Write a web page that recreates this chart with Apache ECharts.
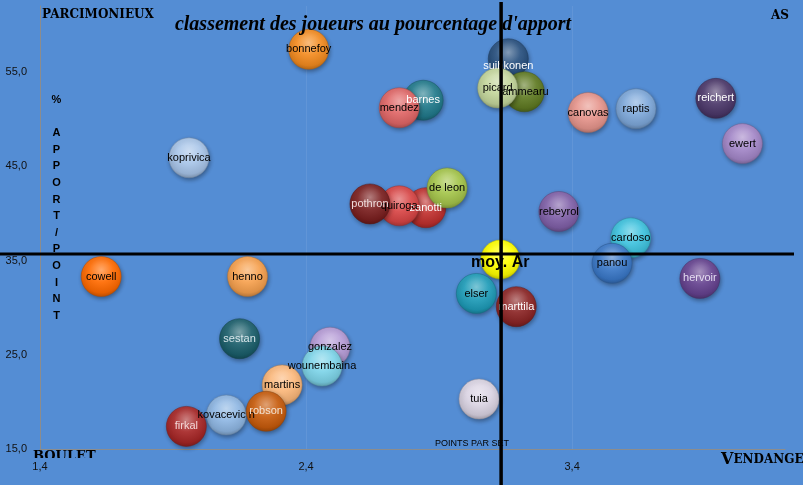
<!DOCTYPE html>
<html><head><meta charset="utf-8">
<script src="https://cdn.jsdelivr.net/npm/echarts@6/dist/echarts.min.js"></script>
<style>html,body{margin:0;padding:0;background:#548DD4}#c{width:803px;height:485px}</style>
</head><body><div id="c"></div>
<script>
// ---- data (draw order: later items sit on top) ----
const players = ['suihkonen','lammearu','picard','bonnefoy','barnes','mendez','canovas','raptis','reichert','ewert','koprivica','zanotti','quiroga','pothron','de leon','rebeyrol','cardoso','panou','hervoir','cowell','henno','moy. Ar','elser','marttila','sestan','gonzalez','martins','wounembaina','kovacevic n','robson','firkal','tuia'];
const pointsParSet = [3.16,3.22,3.12,2.41,2.84,2.75,3.46,3.64,3.94,4.04,1.96,2.85,2.75,2.64,2.93,3.35,3.62,3.55,3.88,1.63,2.18,3.13,3.04,3.19,2.15,2.49,2.31,2.46,2.10,2.25,1.95,3.05];
const apportPct   = [56.4,52.9,53.3,57.4,52.0,51.2,50.7,51.1,52.2,47.4,45.9,40.6,40.8,41.0,42.7,40.2,37.4,34.7,33.1,33.3,33.3,35.1,31.5,30.1,26.7,25.8,21.8,23.8,18.6,19.0,17.4,20.3];
const xTicks = [1.4, 2.4, 3.4];
const yTicks = [15, 25, 35, 45, 55];
const moyenne = {x: 3.133, y: 35.7};

// ---- styles ----
const bubbleColors = ['#28507F','#5F7A22','#C3D69B','#F38B1F','#217A8C','#E06666','#E6958C','#7EA8DA','#4B3769','#A386C8','#A7C4E8','#C0302E','#D84545','#7A1F1F','#A4C44A','#8060A8','#3EC2DE','#3A78C8','#65428F','#FF6A00','#F6A04E','#FFFF00','#1E9CB8','#8B2525','#1B5E6B','#B59BD6','#FBB77A','#7DD4E8','#8EB6E3','#C75B0C','#A62626','#DAD3E3'];
const lightLabel = {'suihkonen':'#ffffff','barnes':'#ffffff','reichert':'#ffffff','pothron':'#f0dcdc','zanotti':'#ffffff','sestan':'#d8e6ea','marttila':'#ffffff','firkal':'#f2d6d6','robson':'#f4e4d4','hervoir':'#e4dcf0'};
const BG = '#548DD4';

function rgb(h){h=h.replace('#','');return [0,2,4].map(i=>parseInt(h.substr(i,2),16));}
function mix(c,t,a){return 'rgb('+c.map((v,i)=>Math.round(v+(t[i]-v)*a)).join(',')+')';}
function fill(hex){
  const c=rgb(hex);
  return {type:'radial',x:0.5,y:0.34,r:0.66,colorStops:[
    {offset:0,color:mix(c,[255,255,255],0.42)},
    {offset:0.45,color:mix(c,[255,255,255],0.08)},
    {offset:0.85,color:mix(c,[0,0,0],0.1)},
    {offset:1,color:mix(c,[0,0,0],0.25)}]};
}
const fmt = v => v.toFixed(1).replace('.', ',');

const bubbles = players.map((n,i)=>({
  name:n, value:[pointsParSet[i], apportPct[i]],
  symbolSize: n==='moy. Ar' ? 39 : 40,
  itemStyle:{opacity:1, color:fill(bubbleColors[i]), borderColor:mix(rgb(bubbleColors[i]),[0,0,0],0.3), borderWidth:0.5,
    shadowColor:'rgba(0,0,0,0.35)', shadowBlur:4, shadowOffsetX:1, shadowOffsetY:2}
}));
const labels = players.map((n,i)=>{
  const isMoy = n === 'moy. Ar';
  return {
    name:n, value:[pointsParSet[i], apportPct[i]],
    label:{show:true, formatter:n, position:'inside',
      color: lightLabel[n] || '#000',
      fontSize: isMoy ? 16 : 11, fontWeight: isMoy ? 'bold' : 'normal',
      fontFamily:'Liberation Sans',
      offset: n==='suihkonen' ? [0,7] : (isMoy ? [0,3] : [0,0])}
  };
});

const chart = echarts.init(document.getElementById('c'), null, {renderer:'canvas'});
const option = {
  backgroundColor: BG,
  animation:false,
  grid:{left:40, right:18, top:6, bottom:36},
  xAxis:{type:'value', min:xTicks[0], max:4.2, interval:1,
    axisLine:{onZero:false, lineStyle:{color:'#8C8C8C', width:1}},
    axisTick:{show:false},
    axisLabel:{margin:12, color:'#111', fontSize:11, fontFamily:'Liberation Sans', showMaxLabel:false,
      formatter: v => xTicks.some(t=>Math.abs(t-v)<1e-6) ? fmt(v) : ''},
    splitLine:{show:true, showMaxLine:false, lineStyle:{color:'rgba(255,255,255,0.08)', width:1}}},
  yAxis:{type:'value', min:yTicks[0], max:62, interval:10,
    axisLine:{show:true, onZero:false, lineStyle:{color:'#8C8C8C', width:1}},
    axisTick:{show:false},
    axisLabel:{margin:13, color:'#111', fontSize:11, fontFamily:'Liberation Sans', showMaxLabel:false,
      formatter: v => yTicks.some(t=>Math.abs(t-v)<1e-6) ? fmt(v) : ''},
    splitLine:{show:false}},
  series:[
    {type:'scatter', z:2, data:bubbles, emphasis:{disabled:true}},
    {type:'scatter', z:3, data:labels, symbolSize:40, itemStyle:{color:'rgba(0,0,0,0)', opacity:1}, silent:true, emphasis:{disabled:true}}
  ]
};
chart.setOption(option);

const p = chart.convertToPixel({gridIndex:0}, [moyenne.x, moyenne.y]);
chart.setOption({graphic:[
  {type:'text', x:373, y:25, z:50, style:{text:"classement des joueurs au pourcentage d'apport", font:'bold italic 20px "Liberation Serif"', fill:'#000', align:'center', verticalAlign:'middle'}},
  {type:'text', x:42, y:15, z:50, style:{text:'PARCIMONIEUX', font:'bold 12px "DejaVu Serif"', fill:'#000', align:'left', verticalAlign:'middle'}},
  {type:'text', x:771, y:16, z:50, style:{text:'AS', font:'bold 12px "DejaVu Serif"', fill:'#000', align:'left', verticalAlign:'middle'}},
  {type:'text', x:33, y:450, z:50, style:{text:'BOULET', font:'bold 13px "DejaVu Serif"', fill:'#000', align:'left', verticalAlign:'top'}},
  {type:'rect', z:51, shape:{x:28, y:458, width:70, height:4}, style:{fill:BG}},
  {type:'text', x:721, y:460, z:50, style:{text:'{a|V}{b|ENDANGEUR}', fill:'#000', align:'left', verticalAlign:'middle',
     rich:{a:{font:'bold 16px "DejaVu Serif"', fill:'#000'}, b:{font:'bold 12px "DejaVu Serif"', fill:'#000'}}}},
  {type:'text', x:56.5, y:91.7, z:50, style:{text:'%\n\nA\nP\nP\nO\nR\nT\n/\nP\nO\nI\nN\nT', font:'bold 11px "Liberation Sans"', lineHeight:16.6, fill:'#000', align:'center', verticalAlign:'top'}},
  {type:'text', x:472, y:444, z:50, style:{text:'POINTS PAR SET', font:'9px "Liberation Sans"', fill:'#000', align:'center', verticalAlign:'middle'}},
  {type:'line', z:100, shape:{x1:0, y1:p[1], x2:794, y2:p[1]}, style:{stroke:'#000', lineWidth:3}},
  {type:'line', z:100, shape:{x1:p[0], y1:2, x2:p[0], y2:485}, style:{stroke:'#000', lineWidth:3.5}}
]});
</script></body></html>
